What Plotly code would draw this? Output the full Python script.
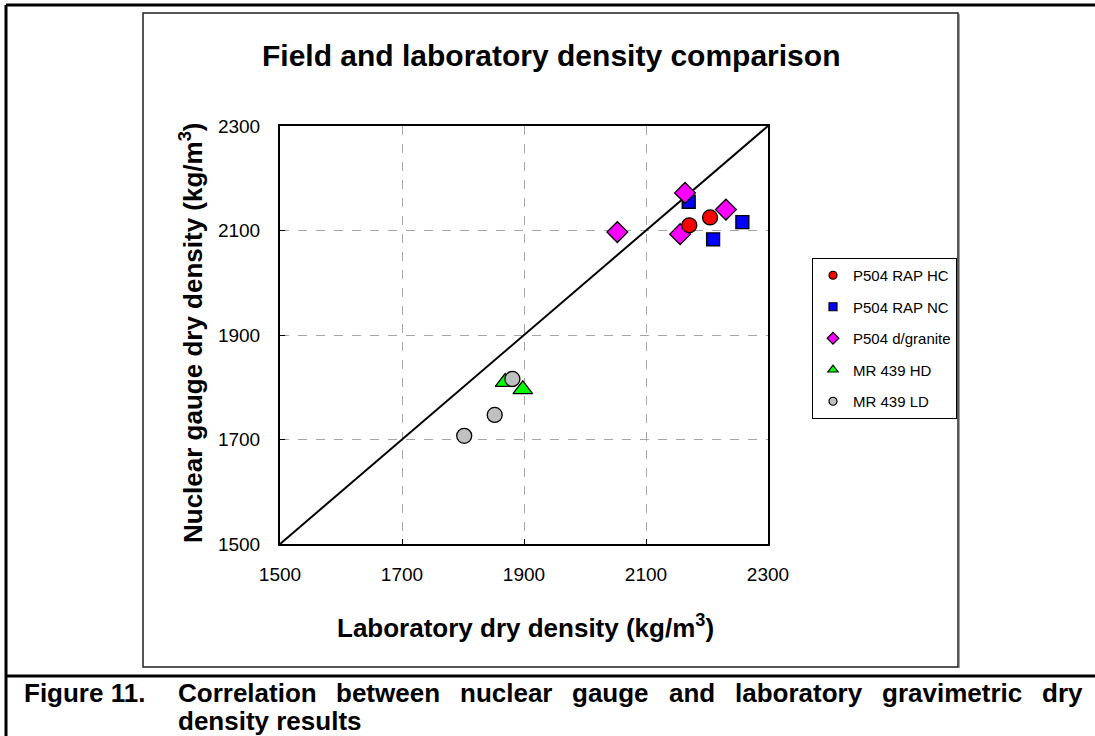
import plotly.graph_objects as go

# ---------------- data ----------------
hc_x = [2205, 2171]
hc_y = [2125, 2110]
nc_x = [2170, 2258, 2210]
nc_y = [2155, 2116, 2083]
gr_x = [2164, 2231, 2053, 2156]
gr_y = [2172, 2140, 2097, 2093]
hd_x = [1869, 1898]
hd_y = [1810, 1796]
ld_x = [1881, 1852, 1802]
ld_y = [1816, 1747, 1707]
line_x = [1500, 2300]
line_y = [1500, 2300]
tick_vals = [1500, 1700, 1900, 2100, 2300]
tick_text = ["1500", "1700", "1900", "2100", "2300"]

W, H = 1095, 736
L, R, T, B = 280, 768, 126, 544
FONT = "Liberation Sans, Arial, sans-serif"


def px(x):
    return (x - L) / (R - L)


def py(y):
    return (B - y) / (B - T)


fig = go.Figure()

fig.add_trace(go.Scatter(x=line_x, y=line_y, mode="lines",
                         line=dict(color="black", width=2), showlegend=False,
                         hoverinfo="skip"))

series = [
    ("P504 RAP NC", nc_x, nc_y, "square", "#0000FF", 13, 2, 8),
    ("P504 d/granite", gr_x, gr_y, "diamond", "#FF00FF", 16, 3, 9),
    ("P504 RAP HC", hc_x, hc_y, "circle", "#FF0000", 15, 1, 8),
    ("MR 439 HD", hd_x, hd_y, "triangle-up", "#00FF00", 17, 4, 9),
    ("MR 439 LD", ld_x, ld_y, "circle", "#C0C0C0", 15, 5, 8),
]
for name, xs, ys, sym, col, sz, rank, lsz in series:
    fig.add_trace(go.Scatter(
        x=xs, y=ys, mode="markers", name=name, showlegend=False,
        legendgroup=name,
        marker=dict(symbol=sym, color=col, size=sz,
                    line=dict(color="black", width=1.3))))
    # legend entry with the small legend symbol
    fig.add_trace(go.Scatter(
        x=[None], y=[None], mode="markers", name=name, legendrank=rank,
        legendgroup=name, showlegend=True,
        marker=dict(symbol=sym, color=col, size=lsz,
                    line=dict(color="black", width=1.2))))

axis_common = dict(
    range=[1500, 2300], tickvals=tick_vals, ticktext=tick_text,
    showgrid=True, gridcolor="#A6A6A6", griddash="dash", gridwidth=1,
    showline=True, linecolor="black", linewidth=2, mirror=True,
    ticks="inside", ticklen=5, tickcolor="black", tickwidth=1,
    zeroline=False, tickfont=dict(family=FONT, size=19, color="black"),
    fixedrange=True,
)
fig.update_xaxes(**axis_common, ticklabelstandoff=12)
fig.update_yaxes(**axis_common, ticklabelstandoff=14)

shapes = [
    # outer frame
    dict(type="line", x0=px(6), x1=px(1100), y0=py(5), y1=py(5),
         line=dict(color="black", width=3)),
    dict(type="line", x0=px(6), x1=px(6), y0=py(5), y1=py(740),
         line=dict(color="black", width=3)),
    dict(type="line", x0=px(6), x1=px(1100), y0=py(676), y1=py(676),
         line=dict(color="black", width=3)),
    # chart box
    dict(type="rect", x0=px(143), x1=px(958), y0=py(13), y1=py(667),
         line=dict(color="#202020", width=1.5)),
    dict(type="line", x0=px(959.5), x1=px(959.5), y0=py(14), y1=py(668),
         line=dict(color="#A0A0A0", width=1)),
]
for s in shapes:
    s.update(xref="paper", yref="paper", layer="above")

annotations = [
    dict(text="<b>Field and laboratory density comparison</b>",
         x=px(551), y=py(55), font=dict(size=30)),
    dict(text="<b>Laboratory dry density (kg/m<sup>3</sup>)</b>",
         x=px(525), y=py(626), font=dict(size=26)),
    dict(text="<b>Nuclear gauge dry density (kg/m<sup>3</sup>)</b>",
         x=px(191), y=py(333), font=dict(size=26), textangle=-90),
    dict(text="<b>Figure 11.</b>", x=px(22), y=py(693), xanchor="left",
         font=dict(size=26)),
    dict(text="<b>density results</b>", x=px(176), y=py(721), xanchor="left",
         font=dict(size=26)),
]
caption_words = ["Correlation", "between", "nuclear", "gauge", "and",
                 "laboratory", "gravimetric", "dry"]
caption_starts = [176, 334, 458, 570, 667, 733, 880, 1040]
for w, xs in zip(caption_words, caption_starts):
    annotations.append(dict(text="<b>%s</b>" % w, x=px(xs), y=py(693),
                            xanchor="left", font=dict(size=26)))
for a in annotations:
    a.setdefault("xanchor", "center")
    a.update(xref="paper", yref="paper", showarrow=False, yanchor="middle")
    a["font"].update(family=FONT, color="black")

fig.update_layout(
    width=W, height=H,
    margin=dict(l=L, r=W - R, t=T, b=H - B, pad=0),
    paper_bgcolor="white", plot_bgcolor="white",
    showlegend=True,
    legend=dict(x=px(812), y=py(258), xanchor="left", yanchor="top",
                bordercolor="black", borderwidth=1, bgcolor="white",
                font=dict(family=FONT, size=15, color="black"),
                itemsizing="trace", itemwidth=30, tracegroupgap=9,
                traceorder="grouped"),
    shapes=shapes, annotations=annotations,
    font=dict(family=FONT, color="black"),
)

fig.write_html("out.html", config={"displayModeBar": False})
